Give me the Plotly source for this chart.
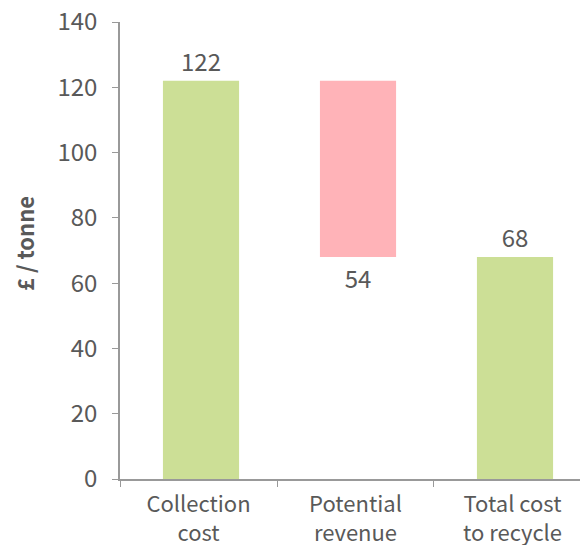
import plotly.graph_objects as go

# Cost breakdown per tonne (£)
categories = ["Collection<br>cost", "Potential<br>revenue", "Total cost<br>to recycle"]
measures = ["absolute", "relative", "total"]
values = [122, -54, 0]
labels = ["122", "54", "68"]

y_ticks = [0, 20, 40, 60, 80, 100, 120, 140]

GREEN = "#CCDF96"
PINK = "#FFB3B8"
TEXT = "#595959"
AXIS = "#999999"
FONT = "Noto Sans CJK KR, Noto Sans, sans-serif"

BAR_W = 0.485

fig = go.Figure(
    go.Waterfall(
        x=categories,
        y=values,
        measure=measures,
        text=labels,
        textposition="outside",
        textfont=dict(size=24, color=TEXT, family=FONT),
        increasing=dict(marker=dict(color=GREEN)),
        decreasing=dict(marker=dict(color=PINK)),
        totals=dict(marker=dict(color=GREEN)),
        connector=dict(visible=False),
        width=BAR_W,
        offset=-BAR_W / 2 + 0.016,
        cliponaxis=False,
        hoverinfo="skip",
    )
)

fig.update_layout(
    width=580,
    height=545,
    margin=dict(l=120, r=0, t=22, b=66),
    paper_bgcolor="white",
    plot_bgcolor="white",
    showlegend=False,
    font=dict(family=FONT, size=22, color=TEXT),
    xaxis=dict(
        range=[-0.5, 2.43],
        automargin=False,
        showline=True,
        linecolor=AXIS,
        linewidth=1.5,
        ticks="outside",
        tickson="boundaries",
        ticklen=6,
        tickcolor=AXIS,
        tickfont=dict(size=22, color=TEXT),
        ticklabelstandoff=5,
        showgrid=False,
    ),
    yaxis=dict(
        range=[0, 140],
        automargin=False,
        tickvals=y_ticks,
        showline=True,
        linecolor=AXIS,
        linewidth=1.5,
        ticks="outside",
        ticklen=6,
        tickcolor=AXIS,
        tickfont=dict(size=24, color=TEXT),
        ticklabelstandoff=10,
        showgrid=False,
        zeroline=False,
    ),
    annotations=[
        dict(
            text="<b>£ / tonne</b>",
            textangle=-90,
            xref="paper",
            yref="paper",
            x=(24 - 120) / 460,
            y=(479 - 244) / 457,
            xanchor="center",
            yanchor="middle",
            showarrow=False,
            font=dict(size=22, color=TEXT, family=FONT),
        )
    ],
)

fig.write_html("out.html")
